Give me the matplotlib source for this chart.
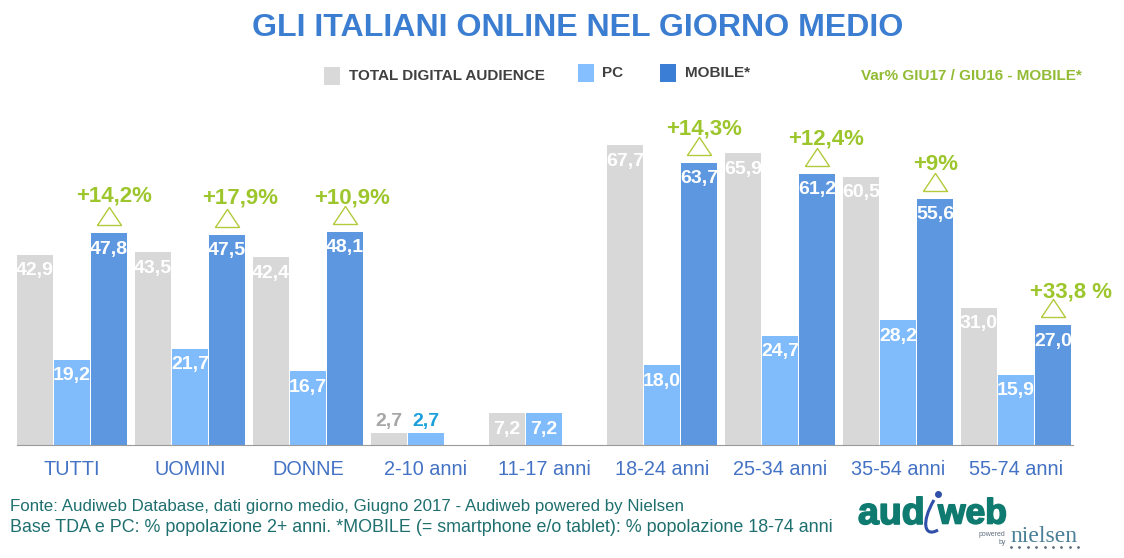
import numpy as np
import matplotlib
matplotlib.use("Agg")
import matplotlib.pyplot as plt
import matplotlib.patheffects as pe
from matplotlib.patches import Rectangle, PathPatch
from matplotlib.path import Path

plt.rcParams['font.family'] = ['Liberation Sans', 'DejaVu Sans']

categories = ["TUTTI", "UOMINI", "DONNE", "2-10 anni", "11-17 anni", "18-24 anni", "25-34 anni", "35-54 anni", "55-74 anni"]
tda = [42.9, 43.5, 42.4, 2.7, 7.2, 67.7, 65.9, 60.5, 31.0]
pc = [19.2, 21.7, 16.7, 2.7, 7.2, 18.0, 24.7, 28.2, 15.9]
mobile = [47.8, 47.5, 48.1, np.nan, np.nan, 63.7, 61.2, 55.6, 27.0]
var_labels = ["+14,2%", "+17,9%", "+10,9%", "", "", "+14,3%", "+12,4%", "+9%", "+33,8 %"]

# nudges of the green labels, in pixels from the mobile bar top
var_dx = [5, 13, 7, 0, 0, 5, 9, 1, 18]
var_dy = [37, 37, 34, 0, 0, 34, 35, 34, 33]

W, H = 1124, 558
PX = 72 / 100  # pixels to points at dpi 100
GRAY = "#d8d8d8"
LIGHT = "#80bbfb"
BLUE = "#5c97df"
GREEN = "#9dc62d"

fig = plt.figure(figsize=(W / 100, H / 100), dpi=100)

# overlay in pixel coordinates for title, legend, footer and logo
over = fig.add_axes([0, 0, 1, 1])
over.set_xlim(0, W)
over.set_ylim(H, 0)
over.axis("off")

over.text(578, 28, "GLI ITALIANI ONLINE NEL GIORNO MEDIO", color="#3b7dd0", fontsize=23.1,
          fontweight="bold", ha="center", va="center")

for x, y, c in [(324, 67, "#d9d9d9"), (578, 64, "#85bfff"), (660, 64, "#3a7fd5")]:
    over.add_patch(Rectangle((x, y), 16, 18, color=c, lw=0))
legend_font = dict(fontsize=11, fontweight="bold", color="#404040", va="center")
over.text(349, 76, "TOTAL DIGITAL AUDIENCE", **legend_font)
over.text(602, 73, "PC", **legend_font)
over.text(685, 73, "MOBILE*", **legend_font)
over.text(861, 76, "Var% GIU17 / GIU16 - MOBILE*", fontsize=11, fontweight="bold", color="#93bb35", va="center")

over.text(10, 507, "Fonte: Audiweb Database, dati giorno medio, Giugno 2017 - Audiweb powered by Nielsen",
          fontsize=12.2, color="#1f6f6f", va="center")
over.text(10, 527, "Base TDA e PC: % popolazione 2+ anni. *MOBILE (= smartphone e/o tablet): % popolazione 18-74 anni",
          fontsize=12.85, color="#1f6f6f", va="center")

# logo
TEAL = "#0f7a70"
heavy = [pe.withStroke(linewidth=1.2, foreground=TEAL)]
over.text(858, 514, "aud", fontsize=27, fontweight="bold", color=TEAL, va="center", path_effects=heavy)
over.text(938, 514, "web", fontsize=25.5, fontweight="bold", color=TEAL, va="center", path_effects=heavy)
over.add_patch(PathPatch(Path([(934, 500), (921, 522), (924, 538), (938, 530)],
                              [Path.MOVETO, Path.CURVE4, Path.CURVE4, Path.CURVE4]),
                         fc="none", ec="#2f4fa8", lw=2.2))
over.plot([938], [494], "o", color="#2f4fa8", ms=4)
over.text(1010, 536, "nielsen", family="Liberation Serif", fontsize=17, color="#4a7f96", va="center")
over.text(979, 535, "powered", fontsize=5, color="#607080", va="center")
over.text(999, 543, "by", fontsize=5, color="#607080", va="center")
over.plot(np.linspace(1011, 1078, 9), [547] * 9, ls="none", marker="o", ms=1, color="#607080")

# bars
ax = fig.add_axes([17 / W, (H - 445) / H, (1073 - 17) / W, 345 / H])
ax.patch.set_alpha(0)
unit = 118.0
ax.set_xlim((17 - 72) / unit, (1073 - 72) / unit)
ax.set_ylim(0, 345 / 4.43)
x = np.arange(len(categories))
step = 37 / unit
width = 36 / unit
ax.bar(x - step, tda, width, color=GRAY)
ax.bar(x, pc, width, color=LIGHT)
ax.bar(x + step, mobile, width, color=BLUE)

for s in ["top", "left", "right"]:
    ax.spines[s].set_visible(False)
ax.spines["bottom"].set_color("#9a9a9a")
ax.set_yticks([])
ax.set_xticks(x)
ax.set_xticklabels(categories, fontsize=14.3, color="#4472c4")
ax.tick_params(axis="x", length=0, pad=11)


def value_label(xpos, val, **kw):
    txt = f"{val:.1f}".replace(".", ",")
    small = val < 5
    color = kw.pop("small_color", "white") if small else "white"
    dy = 12 if small else -16
    ax.annotate(txt, (xpos, val), xytext=(0, dy * PX), textcoords="offset points", ha="center", va="center",
                fontsize=14, fontweight="bold", color=color, annotation_clip=False)


for i in range(len(categories)):
    value_label(x[i] - step, tda[i], small_color="#a6a6a6")
    value_label(x[i], pc[i], small_color="#1ba0dc")
    if not np.isnan(mobile[i]):
        value_label(x[i] + step, mobile[i])
        ax.plot([x[i] + step], [mobile[i] + 8 / 4.43], ls="none", mfc="none", mec="#b5c93c", mew=1, ms=26,
                marker=[(-12, 0), (12, 0), (0, 18), (-12, 0)], clip_on=False)
        ax.annotate(var_labels[i], (x[i] + step, mobile[i]), xytext=(var_dx[i] * PX, var_dy[i] * PX),
                    textcoords="offset points", ha="center", va="center", fontsize=16, fontweight="bold",
                    color=GREEN, annotation_clip=False)

fig.savefig("out.png", dpi=100)
